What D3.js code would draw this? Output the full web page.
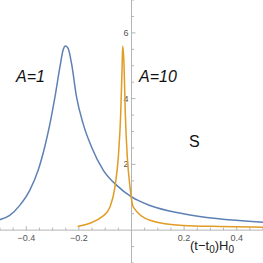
<!DOCTYPE html>
<html>
<head>
<meta charset="utf-8">
<script src="https://cdn.jsdelivr.net/npm/d3@7"></script>
<style>
  html, body { margin: 0; padding: 0; background: #fff; }
  svg { display: block; }
</style>
</head>
<body>
<div id="chart"></div>
<script>
// curve A=1 (blue)
let blueX = [-0.501, -0.463, -0.425, -0.387, -0.355, -0.330, -0.310, -0.291, -0.272, -0.260, -0.251, -0.241, -0.228, -0.209, -0.184, -0.152, -0.107, -0.056, 0.0, 0.07, 0.197, 0.323, 0.5];
let blueY = [0.317, 0.448, 0.753, 1.21, 1.82, 2.53, 3.24, 4.05, 4.97, 5.48, 5.60, 5.53, 5.07, 4.05, 3.24, 2.53, 1.82, 1.36, 1.01, 0.75, 0.50, 0.35, 0.24];

// curve A=10 (orange)
let orangeX = [-0.205, -0.105, -0.082, -0.063, -0.050, -0.041, -0.036, -0.0335, -0.0286, -0.0236, -0.016, -0.0057, 0.007, 0.07, 0.196, 0.337, 0.5];
let orangeY = [0.11, 0.45, 0.70, 1.31, 2.23, 3.55, 4.87, 5.6, 5.07, 3.55, 2.23, 1.31, 0.70, 0.30, 0.14, 0.11, 0.09];

let xMajor = [-0.4, -0.2, 0.2, 0.4];
let xMajorLabels = ["\u22120.4", "\u22120.2", "0.2", "0.4"];
let yMajor = [2, 4, 6];
let yMajorLabels = ["2", "4", "6"];

let width = 263, height = 263;

let svg = d3.select("#chart")
  .append("svg")
  .attr("width", width)
  .attr("height", height)
  .attr("viewBox", `0 0 ${width} ${height}`);

let x = d3.scaleLinear().domain([-0.5, 0.5]).range([0, width]);
let y = d3.scaleLinear().domain([-1, 7]).range([height, 0]);

let axisColor = "#b4b4b4",
    labelColor = "#555";

// axes lines
svg.append("line")
  .attr("x1", 0).attr("x2", width)
  .attr("y1", y(0)).attr("y2", y(0))
  .attr("stroke", axisColor).attr("stroke-width", 1);

svg.append("line")
  .attr("x1", x(0)).attr("x2", x(0))
  .attr("y1", 0).attr("y2", height)
  .attr("stroke", axisColor).attr("stroke-width", 1);

// x ticks: minor every 0.05, major every 0.2
let xMinor = d3.range(-0.5, 0.5001, 0.05).filter(function(d) { return Math.abs(d) > 1e-9; });
svg.append("g").selectAll("line")
  .data(xMinor)
  .enter().append("line")
    .attr("x1", function(d) { return x(d); })
    .attr("x2", function(d) { return x(d); })
    .attr("y1", y(0))
    .attr("y2", function(d) {
      let isMajor = xMajor.some(function(m) { return Math.abs(m - d) < 1e-6; });
      return y(0) - (isMajor ? 4 : 2.5);
    })
    .attr("stroke", axisColor);

svg.append("g").selectAll("text")
  .data(xMajor)
  .enter().append("text")
    .attr("x", function(d) { return x(d); })
    .attr("y", y(0) + 11)
    .attr("text-anchor", "middle")
    .attr("font-family", "Liberation Sans, Arial, sans-serif")
    .attr("font-size", "9px")
    .attr("fill", labelColor)
    .text(function(d, i) { return xMajorLabels[i]; });

// y ticks: minor every 0.5, major every 2
let yMinor = d3.range(-1, 7.001, 0.5).filter(function(d) { return Math.abs(d) > 1e-9; });
svg.append("g").selectAll("line")
  .data(yMinor)
  .enter().append("line")
    .attr("y1", function(d) { return y(d); })
    .attr("y2", function(d) { return y(d); })
    .attr("x1", x(0))
    .attr("x2", function(d) {
      let isMajor = yMajor.indexOf(d) >= 0;
      return x(0) + (isMajor ? 4 : 2.5);
    })
    .attr("stroke", axisColor);

svg.append("g").selectAll("text")
  .data(yMajor)
  .enter().append("text")
    .attr("x", x(0) - 3)
    .attr("y", function(d) { return y(d) + 3; })
    .attr("text-anchor", "end")
    .attr("font-family", "Liberation Sans, Arial, sans-serif")
    .attr("font-size", "9px")
    .attr("fill", labelColor)
    .text(function(d, i) { return yMajorLabels[i]; });

// curves
let line = d3.line()
  .x(function(d) { return x(d[0]); })
  .y(function(d) { return y(d[1]); })
  .curve(d3.curveMonotoneX);

let blueData = blueX.map(function(v, i) { return [v, blueY[i]]; });
let orangeData = orangeX.map(function(v, i) { return [v, orangeY[i]]; });

svg.append("path")
  .datum(blueData)
  .attr("d", line)
  .attr("fill", "none")
  .attr("stroke", "#5e81b5")
  .attr("stroke-width", 1.5);

svg.append("path")
  .datum(orangeData)
  .attr("d", line)
  .attr("fill", "none")
  .attr("stroke", "#e19c24")
  .attr("stroke-width", 1.5);

// annotations
svg.append("text")
  .attr("x", 16).attr("y", 82)
  .attr("font-family", "Liberation Sans, Arial, sans-serif")
  .attr("font-size", "16px")
  .attr("font-style", "italic")
  .attr("fill", "#111")
  .text("A=1");

svg.append("text")
  .attr("x", 139).attr("y", 82)
  .attr("font-family", "Liberation Sans, Arial, sans-serif")
  .attr("font-size", "16px")
  .attr("font-style", "italic")
  .attr("fill", "#111")
  .text("A=10");

svg.append("text")
  .attr("x", 189).attr("y", 147)
  .attr("font-family", "Liberation Sans, Arial, sans-serif")
  .attr("font-size", "16px")
  .attr("fill", "#111")
  .text("S");

// x axis label (t−t0)H0
let xLabel = svg.append("text")
  .attr("x", 190).attr("y", 250)
  .attr("font-family", "Liberation Sans, Arial, sans-serif")
  .attr("font-size", "13px")
  .attr("fill", "#222");
xLabel.append("tspan").text("(t\u2212t");
xLabel.append("tspan").attr("font-size", "10px").attr("dy", 3).text("0");
xLabel.append("tspan").attr("dy", -3).text(")H");
xLabel.append("tspan").attr("font-size", "10px").attr("dy", 3).text("0");
</script>
</body>
</html>
